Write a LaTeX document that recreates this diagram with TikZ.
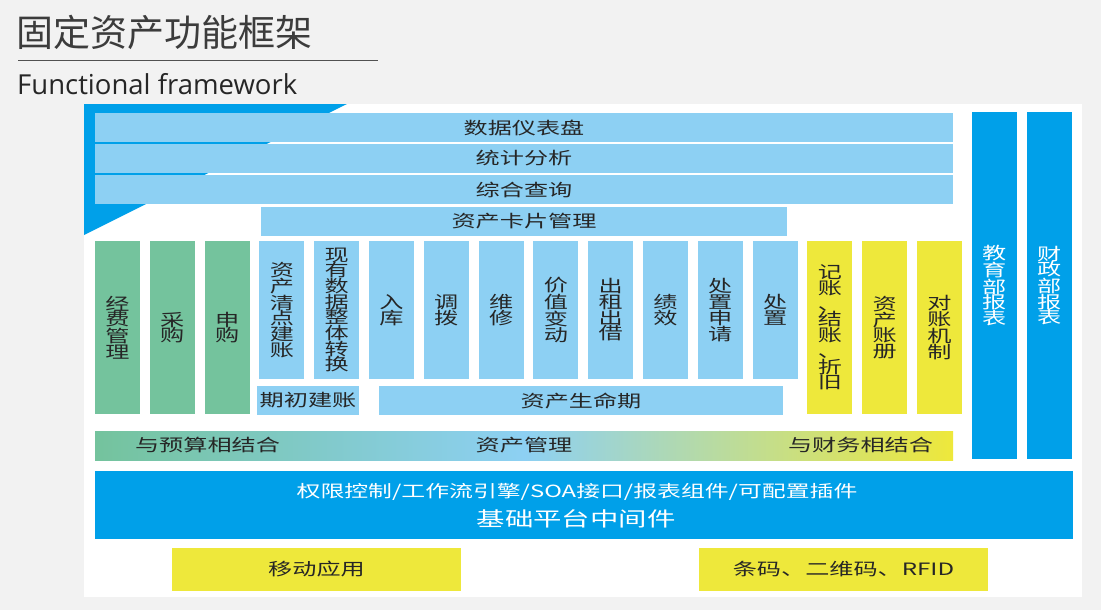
\documentclass[tikz,border=0pt]{standalone}
\usepackage{fontspec}
\setmainfont{Open Sans}
\newfontfamily\cjkfont{Noto Sans CJK SC}
\newfontfamily\cjkwide[FakeStretch=1.42]{Noto Sans CJK SC}

\definecolor{bgray}{HTML}{F2F2F2}
\definecolor{dblue}{HTML}{00A0E9}
\definecolor{lblue}{HTML}{8DD0F3}
\definecolor{lgreen}{HTML}{74C39D}
\definecolor{lyellow}{HTML}{EEE83B}
\definecolor{tgray}{HTML}{262626}

\tikzset{
  box/.style={inner sep=0pt, outer sep=0pt, text=tgray, align=center,
    font={\cjkwide\fontsize{17}{15.7}\selectfont}},
  hbar/.style={box, fill=lblue, minimum height=29pt},
  col/.style={box, minimum width=45pt},
  bluecol/.style={col, fill=lblue, minimum height=138pt},
  greencol/.style={col, fill=lgreen, minimum height=173pt},
  yellowcol/.style={col, fill=lyellow, minimum height=173pt},
  reportcol/.style={col, fill=dblue, minimum height=347pt, text=white},
}

\begin{document}
\begin{tikzpicture}[x=1pt,y=-1pt]
  % fond et cadre
  \fill[bgray] (0,0) rectangle (1101,610);
  \useasboundingbox (0,0) rectangle (1101,610);

  % titre
  \node[anchor=west, inner sep=0pt, text=tgray!90,
    font={\cjkfont\fontsize{37}{40}\selectfont}] (title) at (16,32) {固定资产功能框架};
  \draw[tgray!80, line width=0.8pt] (18,60) -- (378,60);
  \node[anchor=west, inner sep=0pt, text=tgray,
    font={\fontsize{27.5}{30}\selectfont}] (subtitle) at (17,84) {Functional framework};

  % panneau blanc + triangle bleu
  \fill[white] (84,104) rectangle (1082,597);
  \fill[dblue] (84,104) -- (347,104) -- (84,235) -- cycle;

  % barres du haut
  \node[hbar, minimum width=858pt] (dash) at (524,127.5) {数据仪表盘};
  \node[hbar, minimum width=858pt] (stat) at (524,158.5) {统计分析};
  \node[hbar, minimum width=858pt] (query) at (524,189.5) {综合查询};
  \node[hbar, minimum width=526pt] (card) at (524,221.5) {资产卡片管理};

  % colonnes
  \foreach \i/\lbl in {0/{经\\费\\管\\理}, 1/{采\\购}, 2/{申\\购}}
    \node[greencol] (g\i) at ({117.5+54.8*\i},327.5) {\lbl};
  \foreach \i/\lbl in {3/{资\\产\\清\\点\\建\\账}, 4/{现\\有\\数\\据\\整\\体\\转\\换},
      5/{入\\库}, 6/{调\\拨}, 7/{维\\修}, 8/{价\\值\\变\\动}, 9/{出\\租\\出\\借},
      10/{绩\\效}, 11/{处\\置\\申\\请}, 12/{处\\置}}
    \node[bluecol] (b\i) at ({117.5+54.8*\i},310) {\lbl};
  \foreach \i/\lbl in {13/{记\\账\\、\\结\\账\\、\\折\\旧}, 14/{资\\产\\账\\册}, 15/{对\\账\\机\\制}}
    \node[yellowcol] (y\i) at ({117.5+54.8*\i},327.5) {\lbl};
  \foreach \i/\lbl in {16/{教\\育\\部\\报\\表}, 17/{财\\政\\部\\报\\表}}
    \node[reportcol] (r\i) at ({117.5+54.8*\i},285.5) {\lbl};

  % cycle de vie
  \node[hbar, minimum width=102pt] (init) at (308,400.5) {期初建账};
  \node[hbar, minimum width=404pt] (life) at (581,400.5) {资产生命期};

  % gestion des actifs
  \node[box, minimum width=858pt, minimum height=29pt,
    left color=lgreen, right color=lyellow, middle color=lblue] (mgmt) at (524,445.5) {资产管理};
  \node[box] (budget) at (207.5,445.5) {与预算相结合};
  \node[box] (finance) at (860.5,445.5) {与财务相结合};

  % plateforme
  \node[box, fill=dblue, minimum width=978pt, minimum height=68pt] (platform) at (584,505) {};
  \node[box, text=white, font={\cjkwide\fontsize{16.8}{18}\selectfont}] (tools) at (577,492)
    {权限控制/工作流引擎/SOA接口/报表组件/可配置插件};
  \node[box, text=white, font={\cjkwide\fontsize{20}{22}\selectfont}] (middleware) at (576,519)
    {基础平台中间件};

  % applications
  \node[box, fill=lyellow, minimum width=289pt, minimum height=43pt] (mobile) at (316.5,569.5) {移动应用};
  \node[box, fill=lyellow, minimum width=289pt, minimum height=43pt] (barcode) at (843.5,569.5) {条码、二维码、RFID};
\end{tikzpicture}
\end{document}
